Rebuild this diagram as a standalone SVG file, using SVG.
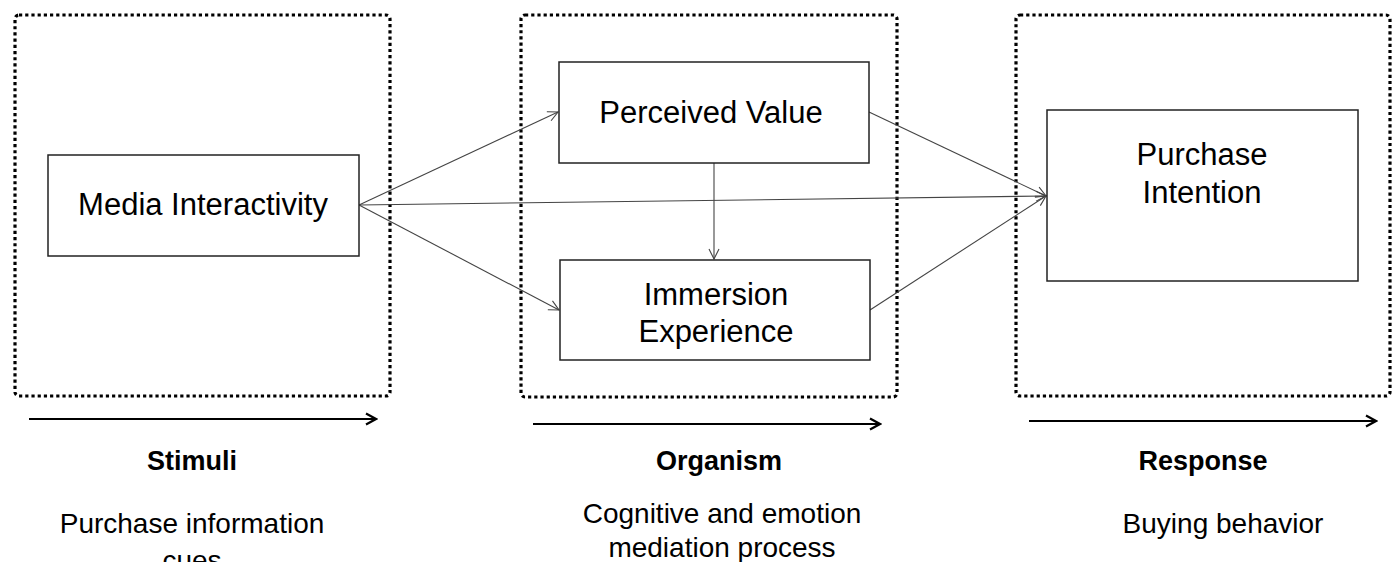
<svg xmlns="http://www.w3.org/2000/svg" width="1395" height="562" viewBox="0 0 1395 562">
<style>
.stage{fill:none;stroke:#000;stroke-width:3.2;stroke-dasharray:3.2 3}
.node{fill:#fff;stroke:#222;stroke-width:1.5}
.lbl{font-family:"Liberation Sans",Arial,sans-serif;font-size:31px;fill:#000;text-anchor:middle}
.cap{font-family:"Liberation Sans",Arial,sans-serif;font-size:28px;fill:#000;text-anchor:middle}
.bold{font-family:"Liberation Sans",Arial,sans-serif;font-size:27px;font-weight:bold;fill:#000;text-anchor:middle}
.edge{fill:none;stroke:#444;stroke-width:1.1;marker-end:url(#thin)}
.flow{fill:none;stroke:#000;stroke-width:2.2;marker-end:url(#thick)}
</style>
<defs>
<marker id="thin" viewBox="0 0 12 12" refX="11" refY="6" markerWidth="12" markerHeight="12" markerUnits="userSpaceOnUse" orient="auto">
<path d="M1,1 L11,6 L1,11" fill="none" stroke="#444" stroke-width="1.1"/>
</marker>
<marker id="thick" viewBox="0 0 14 14" refX="12" refY="7" markerWidth="14" markerHeight="14" markerUnits="userSpaceOnUse" orient="auto">
<path d="M2,1.5 L12,7 L2,12.5" fill="none" stroke="#000" stroke-width="2.2"/>
</marker>
</defs>
<rect width="1395" height="562" fill="#fff"/>
<g id="stages">
<rect class="stage" x="15" y="15" width="375" height="381" rx="4"/>
<rect class="stage" x="521" y="15" width="376" height="382" rx="4"/>
<rect class="stage" x="1016" y="15" width="374" height="381" rx="4"/>
</g>
<g id="connectors">
<line class="edge" x1="359" y1="205" x2="558" y2="112"/>
<line class="edge" x1="359" y1="205" x2="559" y2="310"/>
<line class="edge" x1="359" y1="205" x2="1046" y2="196"/>
<line class="edge" x1="714" y1="163" x2="714" y2="259"/>
<line class="edge" x1="869" y1="112" x2="1046" y2="196"/>
<line class="edge" x1="870" y1="310" x2="1046" y2="196"/>
<line class="flow" x1="29" y1="419" x2="376" y2="419"/>
<line class="flow" x1="533" y1="424" x2="880" y2="424"/>
<line class="flow" x1="1029" y1="421" x2="1376" y2="421"/>
</g>
<g id="media-interactivity">
<rect class="node" x="48" y="155" width="311" height="101"/>
<text class="lbl" x="203" y="215">Media Interactivity</text>
</g>
<g id="perceived-value">
<rect class="node" x="559" y="62" width="310" height="101"/>
<text class="lbl" x="711" y="123">Perceived Value</text>
</g>
<g id="immersion-experience">
<rect class="node" x="560" y="260" width="310" height="100"/>
<text class="lbl" x="716" y="305">Immersion</text>
<text class="lbl" x="716" y="342">Experience</text>
</g>
<g id="purchase-intention">
<rect class="node" x="1047" y="110" width="311" height="171"/>
<text class="lbl" x="1202" y="165">Purchase</text>
<text class="lbl" x="1202" y="203">Intention</text>
</g>
<g id="captions">
<text class="bold" x="192" y="470">Stimuli</text>
<text class="cap" x="192" y="533">Purchase information</text>
<text class="cap" x="192" y="570">cues</text>
<text class="bold" x="719" y="470">Organism</text>
<text class="cap" x="722" y="523">Cognitive and emotion</text>
<text class="cap" x="722" y="557">mediation process</text>
<text class="bold" x="1203" y="470">Response</text>
<text class="cap" x="1223" y="533">Buying behavior</text>
</g>
</svg>
